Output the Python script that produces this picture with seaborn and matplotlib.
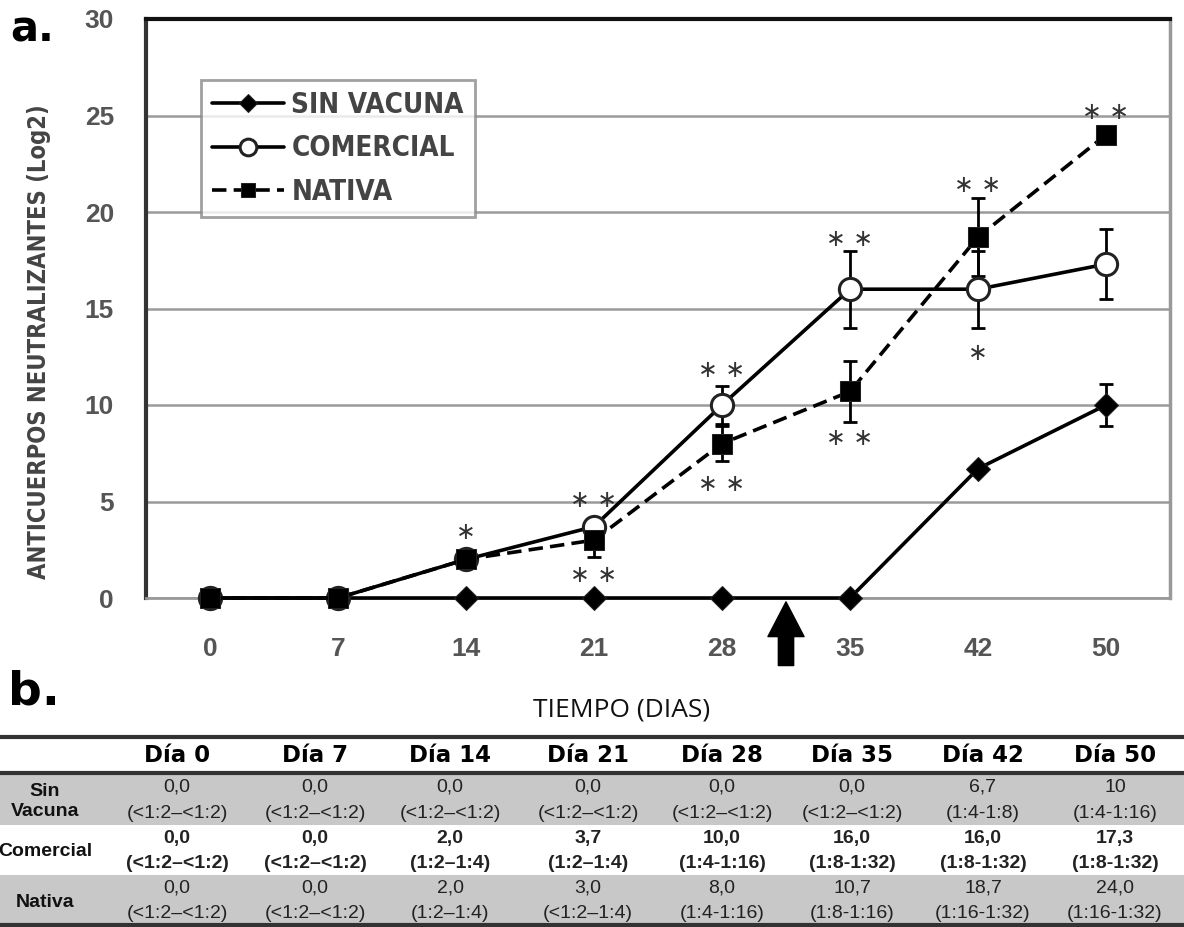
import numpy as np
import pandas as pd
import matplotlib
matplotlib.use("Agg")
import matplotlib.pyplot as plt
import seaborn as sns
from matplotlib import font_manager

# ---------------- data ----------------
dias = ["0", "7", "14", "21", "28", "35", "42", "50"]
sin_vacuna = [0.0, 0.0, 0.0, 0.0, 0.0, 0.0, 6.7, 10.0]
comercial = [0.0, 0.0, 2.0, 3.7, 10.0, 16.0, 16.0, 17.3]
nativa = [0.0, 0.0, 2.0, 3.0, 8.0, 10.7, 18.7, 24.0]
err_sin = [0, 0, 0, 0, 0, 0, 0, 1.1]
err_com = [0, 0, 0, 0.4, 1.0, 2.0, 2.0, 1.8]
err_nat = [0, 0, 0, 0.9, 0.9, 1.6, 2.0, 0]
series_names = ["SIN VACUNA", "COMERCIAL", "NATIVA"]

# significance marks (category index, y value, text)
sig_idx = [2, 3, 3, 4, 4, 5, 5, 6, 6, 7]
sig_y = [3.4, 5.1, 1.2, 11.8, 5.9, 18.6, 8.3, 21.4, 12.7, 25.2]
sig_txt = ["*", "**", "**", "**", "**", "**", "**", "**", "*", "**"]

# table
tabla_cols = ["Día 0", "Día 7", "Día 14", "Día 21", "Día 28", "Día 35", "Día 42", "Día 50"]
tabla_rows = ["Sin\nVacuna", "Comercial", "Nativa"]
tab_sin_val = ["0,0", "0,0", "0,0", "0,0", "0,0", "0,0", "6,7", "10"]
tab_sin_rng = ["(<1:2–<1:2)"] * 6 + ["(1:4-1:8)", "(1:4-1:16)"]
tab_com_val = ["0,0", "0,0", "2,0", "3,7", "10,0", "16,0", "16,0", "17,3"]
tab_com_rng = ["(<1:2–<1:2)", "(<1:2–<1:2)", "(1:2–1:4)", "(1:2–1:4)", "(1:4-1:16)",
               "(1:8-1:32)", "(1:8-1:32)", "(1:8-1:32)"]
tab_nat_val = ["0,0", "0,0", "2,0", "3,0", "8,0", "10,7", "18,7", "24,0"]
tab_nat_rng = ["(<1:2–<1:2)", "(<1:2–<1:2)", "(1:2–1:4)", "(<1:2–1:4)", "(1:4-1:16)",
               "(1:8-1:16)", "(1:16-1:32)", "(1:16-1:32)"]

# ---------------- style ----------------
sns.set_style("white")
avail = {f.name for f in font_manager.fontManager.ttflist}
if "Liberation Sans Narrow" in avail:
    NARROW = dict(family=["Liberation Sans Narrow", "DejaVu Sans"])
else:
    NARROW = dict(family=["DejaVu Sans"], stretch="condensed")
plt.rcParams["font.family"] = ["Liberation Sans", "DejaVu Sans"]

W, H = 1184, 927
fig = plt.figure(figsize=(W / 100, H / 100), dpi=100)
fig.patch.set_facecolor("white")

x0, x1, ytop, ybot = 146, 1170, 19, 598
ax = fig.add_axes([x0 / W, 1 - ybot / H, (x1 - x0) / W, (ybot - ytop) / H])

pos = np.arange(len(dias))
df = pd.DataFrame({"pos": np.tile(pos, 3),
                   "valor": sin_vacuna + comercial + nativa,
                   "grupo": np.repeat(series_names, len(dias))})

# error bars (behind markers)
for vals, errs in [(sin_vacuna, err_sin), (comercial, err_com), (nativa, err_nat)]:
    e = np.array(errs, dtype=float)
    m = e > 0
    ax.errorbar(pos[m], np.array(vals)[m], yerr=e[m], fmt="none", ecolor="black",
                elinewidth=2, capsize=5, capthick=2, zorder=2.5, clip_on=False)

styles = {
    "SIN VACUNA": dict(marker="D", markersize=12.5, markerfacecolor="black",
                       markeredgecolor="#222222", linestyle="-", zorder=3),
    "COMERCIAL": dict(marker="o", markersize=16, markerfacecolor="white",
                      markeredgecolor="#222222", markeredgewidth=2.2, linestyle="-", zorder=4),
    "NATIVA": dict(marker="s", markersize=14, markerfacecolor="black",
                   markeredgecolor="#222222", linestyle=(0, (4, 2)), zorder=5),
}
for name in series_names:
    sub = df[df["grupo"] == name]
    sns.lineplot(data=sub, x="pos", y="valor", ax=ax, color="black", linewidth=2.6,
                 errorbar=None, label=name, clip_on=False, **styles[name])

for i, yv, t in zip(sig_idx, sig_y, sig_txt):
    ax.text(pos[i], yv, "∗" if len(t) == 1 else "∗ ∗", ha="center", va="center",
            fontsize=17, color="#333333", family="DejaVu Sans", zorder=6)

ax.set_xlim(-0.5, len(dias) - 0.5)
ax.set_ylim(0, 30)
ax.set_yticks([0, 5, 10, 15, 20, 25, 30])
ax.set_xticks(pos)
ax.set_xticklabels(dias)
ax.set_xlabel("")
ax.set_ylabel("")
ax.yaxis.grid(True, color="#9a9a9a", linewidth=1.8, zorder=0)
ax.xaxis.grid(False)
ax.set_axisbelow(True)
ax.tick_params(axis="y", length=0, pad=23, labelsize=19, labelcolor="#555555")
ax.tick_params(axis="x", length=4, width=1.2, color="#888888", pad=24, labelsize=19,
               labelcolor="#555555", direction="out")
for lab in ax.get_xticklabels() + ax.get_yticklabels():
    lab.set_fontweight("bold")
    lab.set_family(["Liberation Sans", "DejaVu Sans"])

ax.spines["top"].set_color("#111111"); ax.spines["top"].set_linewidth(3)
ax.spines["left"].set_color("#333333"); ax.spines["left"].set_linewidth(3)
ax.spines["right"].set_color("#999999"); ax.spines["right"].set_linewidth(2.5)
ax.spines["bottom"].set_color("#999999"); ax.spines["bottom"].set_linewidth(2)

leg = ax.legend(loc="upper left", bbox_to_anchor=((201 - x0) / (x1 - x0), (ybot - 80) / (ybot - ytop)),
                borderaxespad=0, frameon=True, fancybox=False, handlelength=2.6,
                handletextpad=0.25, labelspacing=0.55, borderpad=0.4, markerscale=0.75,
                prop=font_manager.FontProperties(size=20, weight="bold", **NARROW))
leg.get_frame().set_edgecolor("#888888")
leg.get_frame().set_linewidth(2)
for t in leg.get_texts():
    t.set_color("#444444")

# arrow (booster) between day 28 and 35
ax.annotate("", xy=(4.5, -0.2), xytext=(4.5, -3.5), annotation_clip=False,
            arrowprops=dict(arrowstyle="simple,head_length=2.5,head_width=2.6,tail_width=1.1",
                            color="black", shrinkA=0, shrinkB=0, mutation_scale=10))

fig.text(39 / W, 1 - 342 / H, "ANTICUERPOS NEUTRALIZANTES (Log2)", rotation=90,
         ha="center", va="center", fontsize=17, weight="bold", color="#444444", **NARROW)
fig.text(622 / W, 1 - 710 / H, "TIEMPO (DIAS)", ha="center", va="center", fontsize=19,
         family=["Open Sans", "DejaVu Sans"], color="#111111")
fig.text(10 / W, 1 - 29 / H, "a.", ha="left", va="center", fontsize=30, weight="heavy",
         family="DejaVu Sans", color="black")
fig.text(8 / W, 1 - 692 / H, "b.", ha="left", va="center", fontsize=34, weight="heavy",
         family="DejaVu Sans", color="black")

# ---------------- table ----------------
tb_top = 734
axt = fig.add_axes([0, 0, 1, (H - tb_top) / H])
axt.set_xlim(0, W)
axt.set_ylim(H, tb_top)
axt.axis("off")

col_x = [177, 315, 450, 588, 722, 852, 983, 1115]
label_x = 45
row_tops = [774, 825, 875]
row_h = [51, 50, 51]
row_bg = ["#c8c8c8", "white", "#c8c8c8"]
vals = [tab_sin_val, tab_com_val, tab_nat_val]
rngs = [tab_sin_rng, tab_com_rng, tab_nat_rng]
weights = ["normal", "bold", "normal"]

for rt, rh, bg in zip(row_tops, row_h, row_bg):
    axt.axhspan(rt, rt + rh, color=bg, zorder=0, lw=0)
for yl in [737, 773, 925]:
    axt.axhline(yl, color="#333333", lw=3, zorder=2, clip_on=False)

for cx, c in zip(col_x, tabla_cols):
    axt.text(cx, 756, c, ha="center", va="center", fontsize=16.5, weight="bold",
             family="DejaVu Sans", color="black")

for r, (rt, rh) in enumerate(zip(row_tops, row_h)):
    lab = tabla_rows[r]
    axt.text(label_x, rt + rh / 2 + 2, lab, ha="center", va="center", fontsize=14,
             weight="bold", color="#111111", linespacing=1.25,
             family=["Liberation Sans", "DejaVu Sans"])
    for cx, v, rg in zip(col_x, vals[r], rngs[r]):
        axt.text(cx, rt + 13, v, ha="center", va="center", fontsize=14, weight=weights[r],
                 color="#222222", family=["Liberation Sans", "DejaVu Sans"])
        axt.text(cx, rt + 39, rg, ha="center", va="center", fontsize=14, weight=weights[r],
                 color="#222222", family=["Liberation Sans", "DejaVu Sans"])

fig.savefig("out.png", dpi=100, facecolor="white")
